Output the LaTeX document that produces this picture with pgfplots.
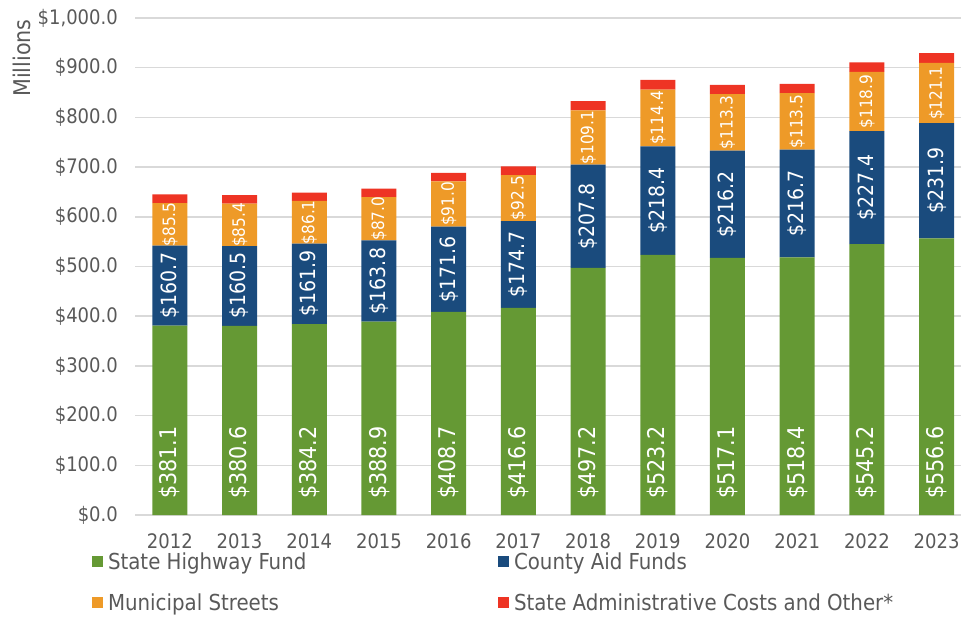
\documentclass[border=0pt]{standalone}
\usepackage{fontspec}
\setmainfont{DejaVu Sans Condensed}
\usepackage{pgfplots}
\usepackage{pgfplotstable}
\pgfplotsset{compat=1.18}
\definecolor{cgreen}{RGB}{101,153,52}
\definecolor{cblue}{RGB}{26,75,125}
\definecolor{corange}{RGB}{238,154,40}
\definecolor{cred}{RGB}{238,52,36}
\definecolor{gridgray}{RGB}{217,217,217}
\definecolor{textgray}{RGB}{89,89,89}
\pgfplotstableread{
x g b o r
0 381.1 160.7 85.5 18.0
1 380.6 160.5 85.4 17.0
2 384.2 161.9 86.1 16.5
3 388.9 163.8 87.0 17.0
4 408.7 171.6 91.0 17.0
5 416.6 174.7 92.5 17.5
6 497.2 207.8 109.1 18.5
7 523.2 218.4 114.4 19.3
8 517.1 216.2 113.3 18.7
9 518.4 216.7 113.5 18.7
10 545.2 227.4 118.9 19.1
11 556.6 231.9 121.1 19.7
}\data
\pgfplotsset{
  frame/.style={at={(135pt,101pt)}, anchor=south west,
  scale only axis, width=826pt, height=497pt,
  xmin=-0.5, xmax=11.35, ymin=0, ymax=1000},
  /pgf/number format/assume math mode=true,
}
\begin{document}
\begin{tikzpicture}
\useasboundingbox (0,0) rectangle (961pt,616pt);
\begin{axis}[
  frame,
  ybar stacked, bar width=35pt,
  xtick={0,1,2,3,4,5,6,7,8,9,10,11},
  xticklabels={2012,2013,2014,2015,2016,2017,2018,2019,2020,2021,2022,2023},
  ytick={0,100,200,300,400,500,600,700,800,900,1000},
  ymajorgrids, grid style={line width=1.5pt, draw=gridgray},
  axis line style={draw=none}, tick style={draw=none}, major tick length=0pt,
  /pgf/number format/.cd, fixed, fixed zerofill, precision=1, 1000 sep={,}, /pgfplots/.cd,
  yticklabel={\$\pgfmathprintnumber{\tick}},
  yticklabel style={anchor=east, inner sep=0pt, xshift=-17pt, text=textgray, font=\fontsize{20}{20}\selectfont},
  xticklabel style={anchor=north, inner sep=0pt, yshift=-18pt, text=textgray, font=\fontsize{20}{20}\selectfont},
  legend columns=2,
  legend style={draw=none, fill=none, at={(axis description cs:-0.052,-0.0755)}, anchor=north west,
    inner sep=0pt, outer sep=0pt, text=textgray, font=\fontsize{22}{22}\selectfont,
    nodes={inner sep=0pt},
    /tikz/every odd column/.append style={column sep=5pt},
    /tikz/every even column/.append style={column sep=20pt},
    row sep=23pt},
  legend cell align=left,
  legend image code/.code={\fill[#1] (0pt,-5.5pt) rectangle (11pt,5.5pt);},
]
\addplot[fill=cgreen, draw=none] table[x=x, y=g] {\data};
\addlegendentry{\makebox[370pt][l]{State Highway Fund}}
\addplot[fill=cblue, draw=none] table[x=x, y=b] {\data};
\addlegendentry{County Aid Funds}
\addplot[fill=corange, draw=none] table[x=x, y=o] {\data};
\addlegendentry{\makebox[370pt][l]{Municipal Streets}}
\addplot[fill=cred, draw=none] table[x=x, y=r] {\data};
\addlegendentry{State Administrative Costs and Other*}
\end{axis}
\begin{axis}[frame, hide axis, clip=false,
  /pgf/number format/.cd, fixed, fixed zerofill, precision=1, /pgfplots/.cd,
  nodes near coords={\$\pgfmathprintnumber{\pgfplotspointmeta}},
  every node near coord/.style={rotate=90, inner sep=0pt, text=white}]
\addplot[only marks, mark=*, mark size=0pt, draw=none, fill=none, point meta=explicit,
  nodes near coords style={anchor=west, xshift=16pt, font=\fontsize{23}{23}\selectfont}]
  table[x=x, y expr=0, meta=g] {\data};
\addplot[only marks, mark=*, mark size=0pt, draw=none, fill=none, point meta=explicit,
  nodes near coords style={anchor=center, font=\fontsize{21}{21}\selectfont}]
  table[x=x, y expr=\thisrow{g}+0.5*\thisrow{b}, meta=b] {\data};
\addplot[only marks, mark=*, mark size=0pt, draw=none, fill=none, point meta=explicit,
  nodes near coords style={anchor=center, font=\fontsize{17}{17}\selectfont}]
  table[x=x, y expr=\thisrow{g}+\thisrow{b}+0.5*\thisrow{o}, meta=o] {\data};
\end{axis}
\node[rotate=90, text=textgray, font=\fontsize{23}{23}\selectfont] at (22pt,558pt) {Millions};
\end{tikzpicture}
\end{document}
